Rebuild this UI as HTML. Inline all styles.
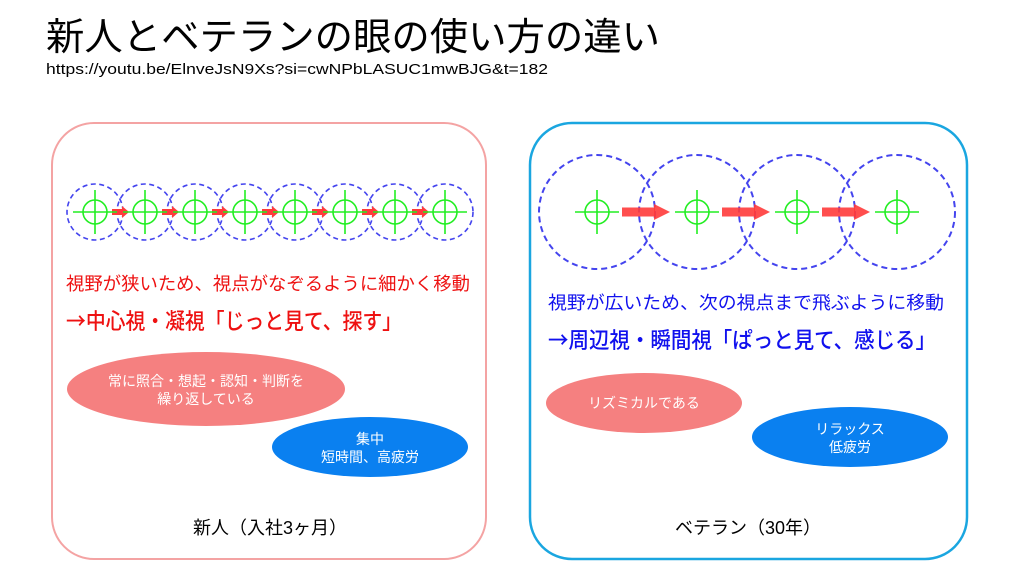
<!DOCTYPE html>
<html><head><meta charset="utf-8"><style>
html,body{margin:0;padding:0;background:#fff;}
svg{display:block;font-family:"Liberation Sans","Noto Sans CJK JP",sans-serif;}
.j{font-family:"Noto Sans CJK JP",sans-serif;}
</style></head><body>
<svg width="1024" height="581" viewBox="0 0 1024 581" xmlns="http://www.w3.org/2000/svg">
<defs>
<g id="cross"><circle r="12" fill="none" stroke="#22ee22" stroke-width="1.6"/><line x1="-22" y1="0" x2="22" y2="0" stroke="#22ee22" stroke-width="1.6"/><line x1="0" y1="-22" x2="0" y2="22" stroke="#22ee22" stroke-width="1.6"/></g>
<g id="arS"><rect x="0" y="-3" width="10" height="6" fill="#ff3b3b"/><polygon points="10,-6 17,0 10,6" fill="#ff3b3b"/></g>
<g id="arL"><rect x="0" y="-4.5" width="33" height="9" fill="#ff3b3b" fill-opacity="0.9"/><polygon points="32,-8 48,0 32,8" fill="#ff3b3b" fill-opacity="0.9"/></g>
</defs>
<text x="46" y="50" font-size="38" fill="#000" textLength="614" lengthAdjust="spacingAndGlyphs">新人とベテランの眼の使い方の違い</text>
<text x="46" y="74" font-size="14.5" fill="#000" textLength="502" lengthAdjust="spacingAndGlyphs">https://youtu.be/ElnveJsN9Xs?si=cwNPbLASUC1mwBJG&amp;t=182</text>

<rect x="52" y="123" width="434" height="436" rx="42" fill="#fff" stroke="#f4a3a3" stroke-width="2"/>
<rect x="530" y="123" width="437" height="436" rx="42" fill="#fff" stroke="#1aa6e0" stroke-width="2.5"/>

<g fill="none" stroke="#4444ee" stroke-width="1.6" stroke-dasharray="5,3.5">
<circle cx="95" cy="212" r="28"/><circle cx="145" cy="212" r="28"/><circle cx="195" cy="212" r="28"/><circle cx="245" cy="212" r="28"/><circle cx="295" cy="212" r="28"/><circle cx="345" cy="212" r="28"/><circle cx="395" cy="212" r="28"/><circle cx="445" cy="212" r="28"/>
</g>
<g>
<use href="#arS" x="112" y="212"/><use href="#arS" x="162" y="212"/><use href="#arS" x="212" y="212"/><use href="#arS" x="262" y="212"/><use href="#arS" x="312" y="212"/><use href="#arS" x="362" y="212"/><use href="#arS" x="412" y="212"/>
</g>
<g>
<use href="#cross" x="95" y="212"/><use href="#cross" x="145" y="212"/><use href="#cross" x="195" y="212"/><use href="#cross" x="245" y="212"/><use href="#cross" x="295" y="212"/><use href="#cross" x="345" y="212"/><use href="#cross" x="395" y="212"/><use href="#cross" x="445" y="212"/>
</g>

<g fill="none" stroke="#4444ee" stroke-width="2" stroke-dasharray="6,4">
<ellipse cx="597" cy="212" rx="58" ry="57"/><ellipse cx="697" cy="212" rx="58" ry="57"/><ellipse cx="797" cy="212" rx="58" ry="57"/><ellipse cx="897" cy="212" rx="58" ry="57"/>
</g>
<use href="#arL" x="622" y="212"/><use href="#arL" x="722" y="212"/><use href="#arL" x="822" y="212"/>
<use href="#cross" x="597" y="212"/><use href="#cross" x="697" y="212"/><use href="#cross" x="797" y="212"/><use href="#cross" x="897" y="212"/>

<text x="66" y="290" font-size="18" fill="#ee1111" textLength="404" lengthAdjust="spacingAndGlyphs">視野が狭いため、視点がなぞるように細かく移動</text>
<text class="j" x="66" y="329" font-size="22" font-weight="500" fill="#ee1111" textLength="336" lengthAdjust="spacingAndGlyphs">→中心視・凝視「じっと見て、探す」</text>
<text x="548" y="309" font-size="18" fill="#1111ee" textLength="396" lengthAdjust="spacingAndGlyphs">視野が広いため、次の視点まで飛ぶように移動</text>
<text class="j" x="548" y="348" font-size="22" font-weight="500" fill="#1111ee" textLength="388" lengthAdjust="spacingAndGlyphs">→周辺視・瞬間視「ぱっと見て、感じる」</text>

<ellipse cx="206" cy="389" rx="139" ry="37" fill="#f58080"/>
<ellipse cx="370" cy="447" rx="98" ry="30" fill="#0a80f0"/>
<ellipse cx="644" cy="403" rx="98" ry="30" fill="#f58080"/>
<ellipse cx="850" cy="437" rx="98" ry="30" fill="#0a80f0"/>
<g fill="#fff" font-size="14" text-anchor="middle">
<text x="206" y="386">常に照合・想起・認知・判断を</text>
<text x="206" y="404">繰り返している</text>
<text x="370" y="444">集中</text>
<text x="370" y="462">短時間、高疲労</text>
<text x="644" y="408">リズミカルである</text>
<text x="850" y="434">リラックス</text>
<text x="850" y="452">低疲労</text>
</g>
<g fill="#000" font-size="18" text-anchor="middle">
<text x="270" y="534">新人（入社3ヶ月）</text>
<text x="748" y="534">ベテラン（30年）</text>
</g>
</svg>
</body></html>
